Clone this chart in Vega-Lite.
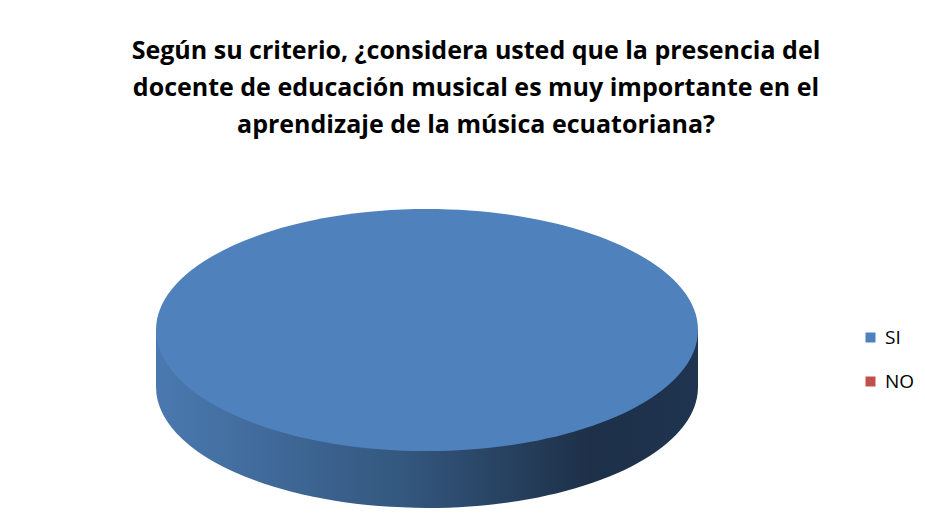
{
  "$schema": "https://vega.github.io/schema/vega-lite/v6.json",
  "autosize": {"type": "none"},
  "width": 824,
  "height": 299,
  "padding": {"left": 15, "top": 209, "right": 86, "bottom": 22},
  "background": "white",
  "title": {
    "text": ["Según su criterio, ¿considera usted que la presencia del", "docente de educación  musical es muy importante en el", "aprendizaje de la música ecuatoriana?"],
    "font": "Open Sans",
    "fontSize": 25,
    "fontWeight": "bold",
    "color": "#000000",
    "lineHeight": 37,
    "anchor": "middle",
    "dx": 49,
    "offset": 71
  },
  "data": {
    "values": [
      {"respuesta": "SI", "valor": 100},
      {"respuesta": "NO", "valor": 0}
    ]
  },
  "layer": [
    {
      "mark": {
        "type": "point",
        "filled": true,
        "strokeWidth": 0,
        "opacity": 1,
        "shape": "M -1 -0.105 L -1 0.105 C -1 0.3516 -0.5523 0.5515 0 0.5515 C 0.5523 0.5515 1 0.3516 1 0.105 L 1 -0.105 Z",
        "fill": {
          "gradient": "linear",
          "x1": 0, "y1": 0, "x2": 1, "y2": 0,
          "stops": [
            {"offset": 0, "color": "#4A79B0"},
            {"offset": 0.45, "color": "#34587F"},
            {"offset": 0.8, "color": "#1D3048"},
            {"offset": 1, "color": "#1F3450"}
          ]
        }
      },
      "encoding": {
        "size": {"field": "valor", "type": "quantitative", "scale": {"domain": [0, 100], "range": [0, 293764]}, "legend": null}
      }
    },
    {
      "mark": {
        "type": "point",
        "filled": true,
        "strokeWidth": 0,
        "opacity": 1,
        "shape": "M -1 -0.105 C -1 -0.3516 -0.5523 -0.5515 0 -0.5515 C 0.5523 -0.5515 1 -0.3516 1 -0.105 C 1 0.1416 0.5523 0.3415 0 0.3415 C -0.5523 0.3415 -1 0.1416 -1 -0.105 Z"
      },
      "encoding": {
        "size": {"field": "valor", "type": "quantitative", "scale": {"domain": [0, 100], "range": [0, 293764]}, "legend": null},
        "color": {
          "field": "respuesta",
          "type": "nominal",
          "scale": {"domain": ["SI", "NO"], "range": ["#4F81BD", "#C0504D"]},
          "legend": {
            "title": null,
            "orient": "none",
            "legendX": 846,
            "legendY": 119,
            "symbolType": "square",
            "symbolSize": 100,
            "symbolStrokeWidth": 0,
            "labelFont": "Open Sans",
            "labelFontSize": 19,
            "labelColor": "#000000",
            "labelOffset": 5,
            "rowPadding": 24
          }
        }
      }
    }
  ],
  "config": {
    "view": {"stroke": null}
  }
}
